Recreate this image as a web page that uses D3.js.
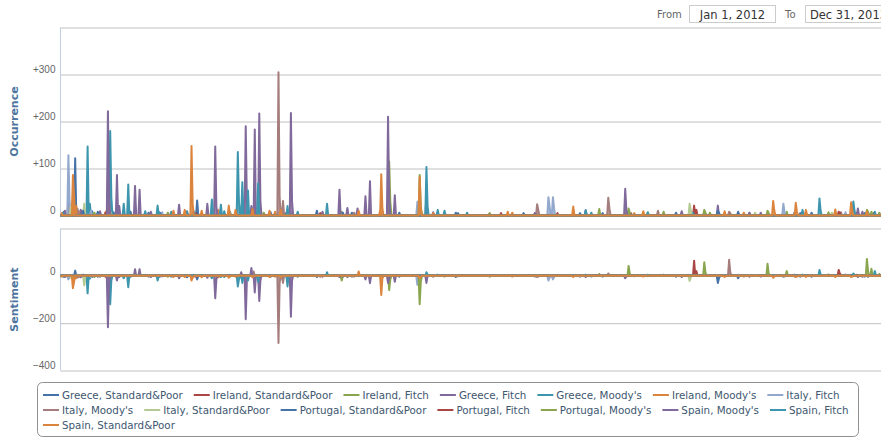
<!DOCTYPE html>
<html lang="en">
<head>
<meta charset="UTF-8">
<script src="https://d3js.org/d3.v7.min.js"></script>
<title>Rating news - occurrence and sentiment</title>
<style>
  body { margin: 0; background: #fff; }
  svg { font-family: "DejaVu Sans", Verdana, sans-serif; }
</style>
</head>
<body>
<div id="chart"></div>
<script>
// one entry per day with news: [day since Jan 1 2012, occurrence, sentiment]
// days that are not listed had nothing (0)
const greeceSP = [[3,8,-4],[13,122,22],[15,14,-6],[28,9,-5],[47,7,3],[62,8,-4],[78,6,-3],[112,9,-6],[121,32,-15],[150,8,4],[186,7,-4],[227,10,-5],[258,6,-3],[300,6,-4],[352,5,-2],[410,5,3],[480,5,-3],[545,6,-4],[610,5,3],[665,6,-4],[712,5,-3]];
const irelandSP = [[7,28,-10],[9,12,-4],[60,6,-3],[118,5,-3],[200,6,-3],[290,5,2],[380,4,-2],[440,5,3],[561,21,64],[563,12,20],[600,5,3],[690,6,8],[720,5,3]];
const irelandFitch = [[10,8,-6],[95,6,-4],[180,6,3],[249,8,-20],[291,115,-60],[292,30,-15],[340,5,-3],[420,5,3],[477,14,8],[520,6,4],[534,8,5],[575,6,3],[643,8,20],[680,7,6],[718,8,30],[725,6,8]];
const greeceFitch = [[4,10,-5],[18,12,-6],[35,9,-4],[50,86,-20],[52,20,-5],[66,63,28],[70,55,28],[105,23,-10],[130,25,-8],[160,12,15],[232,8,-4],[330,7,-3],[465,11,-5],[550,9,-5],[582,21,-8],[620,6,-3],[710,8,-4]];
const greeceMoodys = [[2,6,-3],[14,15,-5],[24,147,-74],[26,25,-12],[44,180,-120],[45,40,-20],[56,25,-10],[60,66,-48],[75,9,4],[86,21,-20],[98,8,-4],[112,7,3],[145,9,-5],[210,8,-4],[360,6,3],[470,6,-3],[560,6,4],[650,7,5],[700,6,4]];
const irelandMoodys = [[11,86,-52],[12,43,-25],[14,20,-10],[40,8,-4],[100,10,-5],[140,12,-6],[168,10,3],[190,8,-4],[284,88,-81],[285,15,-10],[330,5,-2],[400,6,-3],[508,5,-2],[605,6,-3],[660,8,-4]];
const italyFitch = [[7,128,-15],[8,30,-5],[27,10,-6],[90,7,-3],[205,8,-4],[316,29,-38],[317,10,-10],[432,39,-20],[433,20,-8],[436,39,-15],[437,15,-5],[500,6,-3],[640,25,-5],[641,8,-3],[695,7,6]];
const italyMoodys = [[16,10,-6],[43,25,-10],[171,12,18],[193,305,-284],[194,40,-30],[197,31,-30],[260,6,-3],[422,24,-5],[423,12,-3],[485,38,10],[486,15,4],[529,10,0],[592,8,68],[593,5,15],[650,6,-3],[691,7,5]];
const italySP = [[9,18,-8],[21,25,-40],[44,8,-4],[170,6,3],[320,6,-4],[557,25,-22],[558,12,-8],[615,6,4],[683,6,3]];
const portugalSP = [[20,10,5],[33,8,-4],[88,6,-3],[250,6,-3],[350,6,-5],[460,5,-3],[582,10,-30],[583,6,-10],[600,8,-10],[655,5,-3],[715,6,-4]];
const portugalFitch = [[40,6,-4],[120,5,-3],[230,5,-3],[390,5,2],[505,5,3],[689,8,25],[690,6,10],[705,5,4]];
const portugalMoodys = [[30,6,-5],[150,6,-4],[318,86,-120],[319,20,-25],[380,5,-3],[503,15,42],[504,6,10],[570,12,57],[571,6,15],[626,10,51],[627,5,10],[714,12,71],[715,8,20]];
const spainMoodys = [[42,222,-217],[43,40,-30],[80,8,-5],[137,147,-95],[138,20,-15],[164,190,-183],[165,30,-20],[169,20,33],[172,183,-70],[176,217,-106],[177,30,-20],[204,218,-173],[205,30,-20],[247,55,-5],[254,16,-5],[263,15,5],[270,41,-15],[274,73,-31],[290,210,-30],[291,40,-10],[296,43,-25],[324,40,-30],[420,5,-3],[500,57,-10],[501,12,-3],[610,6,-4],[706,15,-5]];
const spainFitch = [[87,8,-5],[118,9,4],[134,34,-10],[142,23,-5],[157,135,-45],[158,30,-15],[161,71,-30],[166,53,-20],[175,68,-25],[201,20,-45],[236,25,15],[324,103,15],[325,20,5],[334,12,5],[340,10,3],[465,11,5],[520,7,4],[657,12,5],[672,36,25],[673,10,6],[702,30,10],[703,10,5],[721,8,20]];
const spainSP = [[1,5,-3],[11,40,-20],[110,12,-5],[116,148,-20],[117,25,-8],[125,10,-6],[149,21,-8],[155,12,-4],[170,14,-6],[185,10,-5],[195,12,-6],[264,10,18],[283,10,-4],[318,82,-10],[319,15,-5],[396,8,2],[454,19,-5],[516,9,-3],[588,9,-5],[631,31,-8],[632,10,-3],[651,27,-5],[652,8,-3],[660,12,-3],[686,13,-5],[700,28,-5],[701,10,-3],[714,9,3]];

const seriesNames = ["Greece, Standard&Poor", "Ireland, Standard&Poor", "Ireland, Fitch", "Greece, Fitch",
    "Greece, Moody's", "Ireland, Moody's", "Italy, Fitch", "Italy, Moody's", "Italy, Standard&Poor",
    "Portugal, Standard&Poor", "Portugal, Fitch", "Portugal, Moody's", "Spain, Moody's", "Spain, Fitch",
    "Spain, Standard&Poor"];
const seriesEvents = [greeceSP, irelandSP, irelandFitch, greeceFitch, greeceMoodys, irelandMoodys,
    italyFitch, italyMoodys, italySP, portugalSP, portugalFitch, portugalMoodys, spainMoodys, spainFitch, spainSP];

const occTicks = [0, 100, 200, 300, 400];
const sentTicks = [-400, -200, 0, 200];
const fromDate = "Jan 1, 2012";
const toDate = "Dec 31, 2013";

const palette = ["#4572A7", "#AA4643", "#89A54E", "#80699B", "#3D96AE", "#DB843D", "#92A8CD", "#A47D7C", "#B5CA92"];

const width = 881, height = 437;
const left = 60.5, right = 885;
const start = new Date(2012, 0, 1), end = new Date(2013, 11, 31);
const days = d3.timeDays(start, d3.timeDay.offset(end, 1));

const x = d3.scaleTime([start, end], [left, right]);
const yOcc = d3.scaleLinear([0, 400], [215.5, 27.5]);
const ySent = d3.scaleLinear([-400, 200], [370.5, 228.5]);

function daily(events, k) {
    const v = days.map(() => 0);
    events.forEach(e => v[e[0]] = e[k]);
    return v;
}

const svg = d3.select("#chart").append("svg")
    .attr("width", width)
    .attr("height", height);

function drawPane(y, ticks, fmt, title, id) {
    const [y0, y1] = y.range();
    const g = svg.append("g")
        .attr("transform", `translate(${left},0)`)
        .call(d3.axisLeft(y).tickValues(ticks).tickFormat(fmt).tickSize(-(right - left)).tickPadding(5));
    g.select(".domain").remove();
    g.selectAll(".tick line").attr("stroke", "#C0C0C0");
    g.selectAll(".tick text")
        .attr("fill", "#666")
        .attr("font-size", 10)
        .attr("dy", "-0.18em")
        .filter(d => d === ticks[ticks.length - 1]).remove();
    svg.append("line")
        .attr("x1", left).attr("x2", left)
        .attr("y1", y1).attr("y2", y0)
        .attr("stroke", "#C0D0E0");
    svg.append("text")
        .attr("transform", `translate(18,${(y0 + y1) / 2}) rotate(-90)`)
        .attr("text-anchor", "middle")
        .attr("font-size", 11)
        .attr("font-weight", "bold")
        .attr("fill", "#4D759E")
        .text(title);
    svg.append("clipPath").attr("id", id)
        .append("rect")
        .attr("x", left).attr("y", y1 - 2)
        .attr("width", right - left + 10).attr("height", y0 - y1 + 4);
}

drawPane(yOcc, occTicks, d => d === 0 ? "0" : "+" + d, "Occurrence", "clip-occ");
drawPane(ySent, sentTicks, d => d3.format("d")(d), "Sentiment", "clip-sent");

const gOcc = svg.append("g").attr("clip-path", "url(#clip-occ)");
const gSent = svg.append("g").attr("clip-path", "url(#clip-sent)");

seriesEvents.forEach((events, i) => {
    const color = palette[i % palette.length];
    [[gOcc, yOcc, 1], [gSent, ySent, 2]].forEach(([g, y, k]) => {
        const v = daily(events, k);
        const area = d3.area()
            .x((d, j) => x(days[j]))
            .y0(y(0))
            .y1(d => y(d));
        const line = d3.line()
            .x((d, j) => x(days[j]))
            .y(d => y(d));
        g.append("path").datum(v)
            .attr("d", area)
            .attr("fill", color)
            .attr("fill-opacity", 0.75);
        g.append("path").datum(v)
            .attr("d", line)
            .attr("fill", "none")
            .attr("stroke", color)
            .attr("stroke-width", 2)
            .attr("stroke-linejoin", "round");
    });
});

// legend
const legend = svg.append("g");
legend.append("rect")
    .attr("x", 37.5).attr("y", 382.5)
    .attr("width", 821).attr("height", 54)
    .attr("rx", 5)
    .attr("fill", "#fff")
    .attr("stroke", "#909090");

let lx = 43, ly = 395;
seriesNames.forEach((name, i) => {
    const item = legend.append("g");
    const t = item.append("text")
        .attr("x", 19).attr("y", 4)
        .attr("font-size", 10.3)
        .attr("fill", "#3E576F")
        .text(name);
    const w = t.node().getComputedTextLength();
    if (lx + 19 + w > 856) { lx = 43; ly += 15; }
    item.attr("transform", `translate(${lx},${ly})`);
    item.append("line")
        .attr("x1", 0).attr("x2", 16)
        .attr("stroke", palette[i % palette.length])
        .attr("stroke-width", 2);
    lx += 19 + w + 11;
});

// date range inputs
const range = svg.append("g").attr("font-size", 10);
range.append("text").attr("x", 657).attr("y", 18).attr("fill", "#666").text("From");
range.append("text").attr("x", 785).attr("y", 18).attr("fill", "#666").text("To");
[[689.5, fromDate], [805.5, toDate]].forEach(([bx, label]) => {
    range.append("rect")
        .attr("x", bx).attr("y", 5.5)
        .attr("width", 86).attr("height", 17)
        .attr("fill", "#fff")
        .attr("stroke", "#CCC");
    range.append("text")
        .attr("x", bx + 43).attr("y", 18.5)
        .attr("text-anchor", "middle")
        .attr("font-size", 11.5)
        .attr("fill", "#333")
        .text(label);
});
</script>
</body>
</html>
